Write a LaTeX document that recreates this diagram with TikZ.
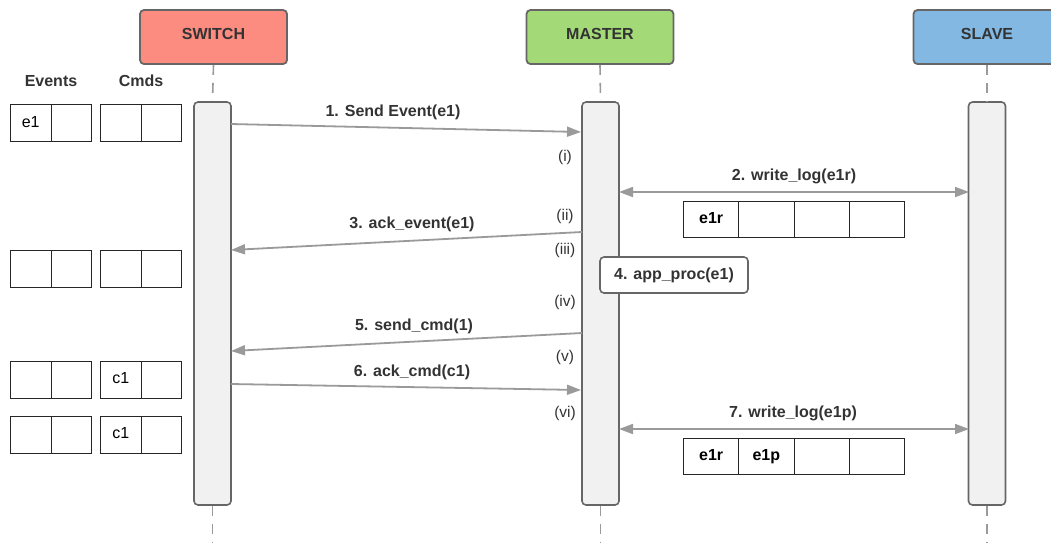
\documentclass[tikz,border=0pt]{standalone}
\usepackage{fontspec}
\setmainfont{Liberation Sans}
\usetikzlibrary{arrows.meta}
\definecolor{swc}{HTML}{FC8B80}
\definecolor{msc}{HTML}{A3D977}
\definecolor{slc}{HTML}{82B8E2}
\definecolor{barc}{HTML}{F1F1F1}
\definecolor{edge}{HTML}{666666}
\definecolor{txt}{HTML}{333333}
\definecolor{msgc}{HTML}{9A9A9A}
\begin{document}
\begin{tikzpicture}[x=1pt,y=-1pt,
  head/.style={rounded corners=4pt,draw=edge,line width=1.8pt,minimum width=147pt,minimum height=54pt,inner sep=0pt,text height=12pt,text depth=8pt,font=\bfseries\fontsize{16}{18}\selectfont,text=txt},
  actbar/.style={rounded corners=4pt,draw=edge,line width=1.6pt,fill=barc,minimum width=37pt,minimum height=403pt,inner sep=0pt},
  life/.style={draw=msgc,line width=1.6pt,dash pattern=on 10pt off 8pt},
  msg/.style={draw=msgc,line width=1.8pt,-{Triangle[length=14pt,width=10pt]}},
  dmsg/.style={draw=msgc,line width=1.8pt,{Triangle[length=14pt,width=10pt]}-{Triangle[length=14pt,width=10pt]}},
  lbl/.style={font=\bfseries\fontsize{16}{18}\selectfont,text=txt,inner sep=0pt},
  stp/.style={font=\fontsize{15.5}{18}\selectfont,text=txt,inner sep=0pt},
  qcell/.style={draw=black!85,line width=1pt,minimum width=40.5pt,minimum height=37pt,inner sep=0pt,text height=11pt,text depth=3pt,anchor=north west,font=\fontsize{16}{18}\selectfont},
  lcell/.style={draw=black!85,line width=1pt,minimum width=55.25pt,minimum height=36pt,inner sep=0pt,text height=11pt,text depth=3pt,anchor=north west,font=\bfseries\fontsize{16}{18}\selectfont},
  procbox/.style={rounded corners=4pt,draw=edge,line width=1.6pt,fill=white,minimum width=148pt,minimum height=36pt,inner sep=0pt,font=\bfseries\fontsize{16}{18}\selectfont,text=txt}
]
\useasboundingbox (0,0) rectangle (1051,542);
\clip (0,0) rectangle (1051,542);
% headers
\node[head,fill=swc] (sw) at (213.5,37) {SWITCH};
\node[head,fill=msc] (ms) at (600,37) {MASTER};
\node[head,fill=slc] (sl) at (987,37) {SLAVE};
% activation bars
\node[actbar] (swb) at (212.5,303.5) {};
\node[actbar] (msb) at (600.5,303.5) {};
\node[actbar] (slb) at (987,303.5) {};
% lifelines
\coordinate (swe) at (212.5,542);
\coordinate (mse) at (600.5,542);
\coordinate (sle) at (987,542);
\draw[life] (sw.south) -- (swb.north);
\draw[life] (ms.south) -- (msb.north);
\draw[life] (sl.south) -- (slb.north);
\draw[life] (swb.south) -- (swe);
\draw[life] (msb.south) -- (mse);
\draw[life] (slb.south) -- (sle);
% queue labels
\node[lbl] (evl) at (51,81) {Events};
\node[lbl] (cml) at (141,81) {Cmds};
% queues
\node[qcell] (e1a) at (10,104) {e1};
\node[qcell] (e1b) at (50.5,104) {};
\node[qcell] (c1a) at (100,104) {};
\node[qcell] (c1b) at (140.5,104) {};
\node[qcell] (e2a) at (10,250) {};
\node[qcell] (e2b) at (50.5,250) {};
\node[qcell] (c2a) at (100,250) {};
\node[qcell] (c2b) at (140.5,250) {};
\node[qcell] (e3a) at (10,360.5) {};
\node[qcell] (e3b) at (50.5,360.5) {};
\node[qcell] (c3a) at (100,360.5) {c1};
\node[qcell] (c3b) at (140.5,360.5) {};
\node[qcell] (e4a) at (10,415.5) {};
\node[qcell] (e4b) at (50.5,415.5) {};
\node[qcell] (c4a) at (100,415.5) {c1};
\node[qcell] (c4b) at (140.5,415.5) {};
% log boxes
\node[lcell] (la1) at (683,201) {e1r};
\node[lcell] (la2) at (738.25,201) {};
\node[lcell] (la3) at (793.5,201) {};
\node[lcell] (la4) at (848.75,201) {};
\node[lcell] (lb1) at (683,438) {e1r};
\node[lcell] (lb2) at (738.25,438) {e1p};
\node[lcell] (lb3) at (793.5,438) {};
\node[lcell] (lb4) at (848.75,438) {};
% message endpoints
\coordinate (m1s) at (231,124);
\coordinate (m1e) at (581,132);
\coordinate (m2s) at (619,192);
\coordinate (m2e) at (969,192);
\coordinate (m3s) at (582,232);
\coordinate (m3e) at (231,250);
\coordinate (m5s) at (582,333);
\coordinate (m5e) at (231,351);
\coordinate (m6s) at (231,384);
\coordinate (m6e) at (581,390);
\coordinate (m7s) at (619,429);
\coordinate (m7e) at (969,429);
\draw[msg] (m1s) -- (m1e);
\draw[dmsg] (m2s) -- (m2e);
\draw[msg] (m3s) -- (m3e);
\draw[msg] (m5s) -- (m5e);
\draw[msg] (m6s) -- (m6e);
\draw[dmsg] (m7s) -- (m7e);
% message labels
\node[lbl] (t1) at (393,112) {1. Send Event(e1)};
\node[lbl] (t2) at (794,176) {2. write\_log(e1r)};
\node[lbl] (t3) at (412,224) {3. ack\_event(e1)};
\node[lbl] (t5) at (414,326) {5. send\_cmd(1)};
\node[lbl] (t6) at (412,372) {6. ack\_cmd(c1)};
\node[lbl] (t7) at (793,413) {7. write\_log(e1p)};
% process box
\node[procbox] (ap) at (674,275) {4. app\_proc(e1)};
% step markers
\node[stp] (s1) at (565,157) {(i)};
\node[stp] (s2) at (565,216) {(ii)};
\node[stp] (s3) at (565,250) {(iii)};
\node[stp] (s4) at (565,302) {(iv)};
\node[stp] (s5) at (565,357) {(v)};
\node[stp] (s6) at (565,413) {(vi)};
\end{tikzpicture}
\end{document}
